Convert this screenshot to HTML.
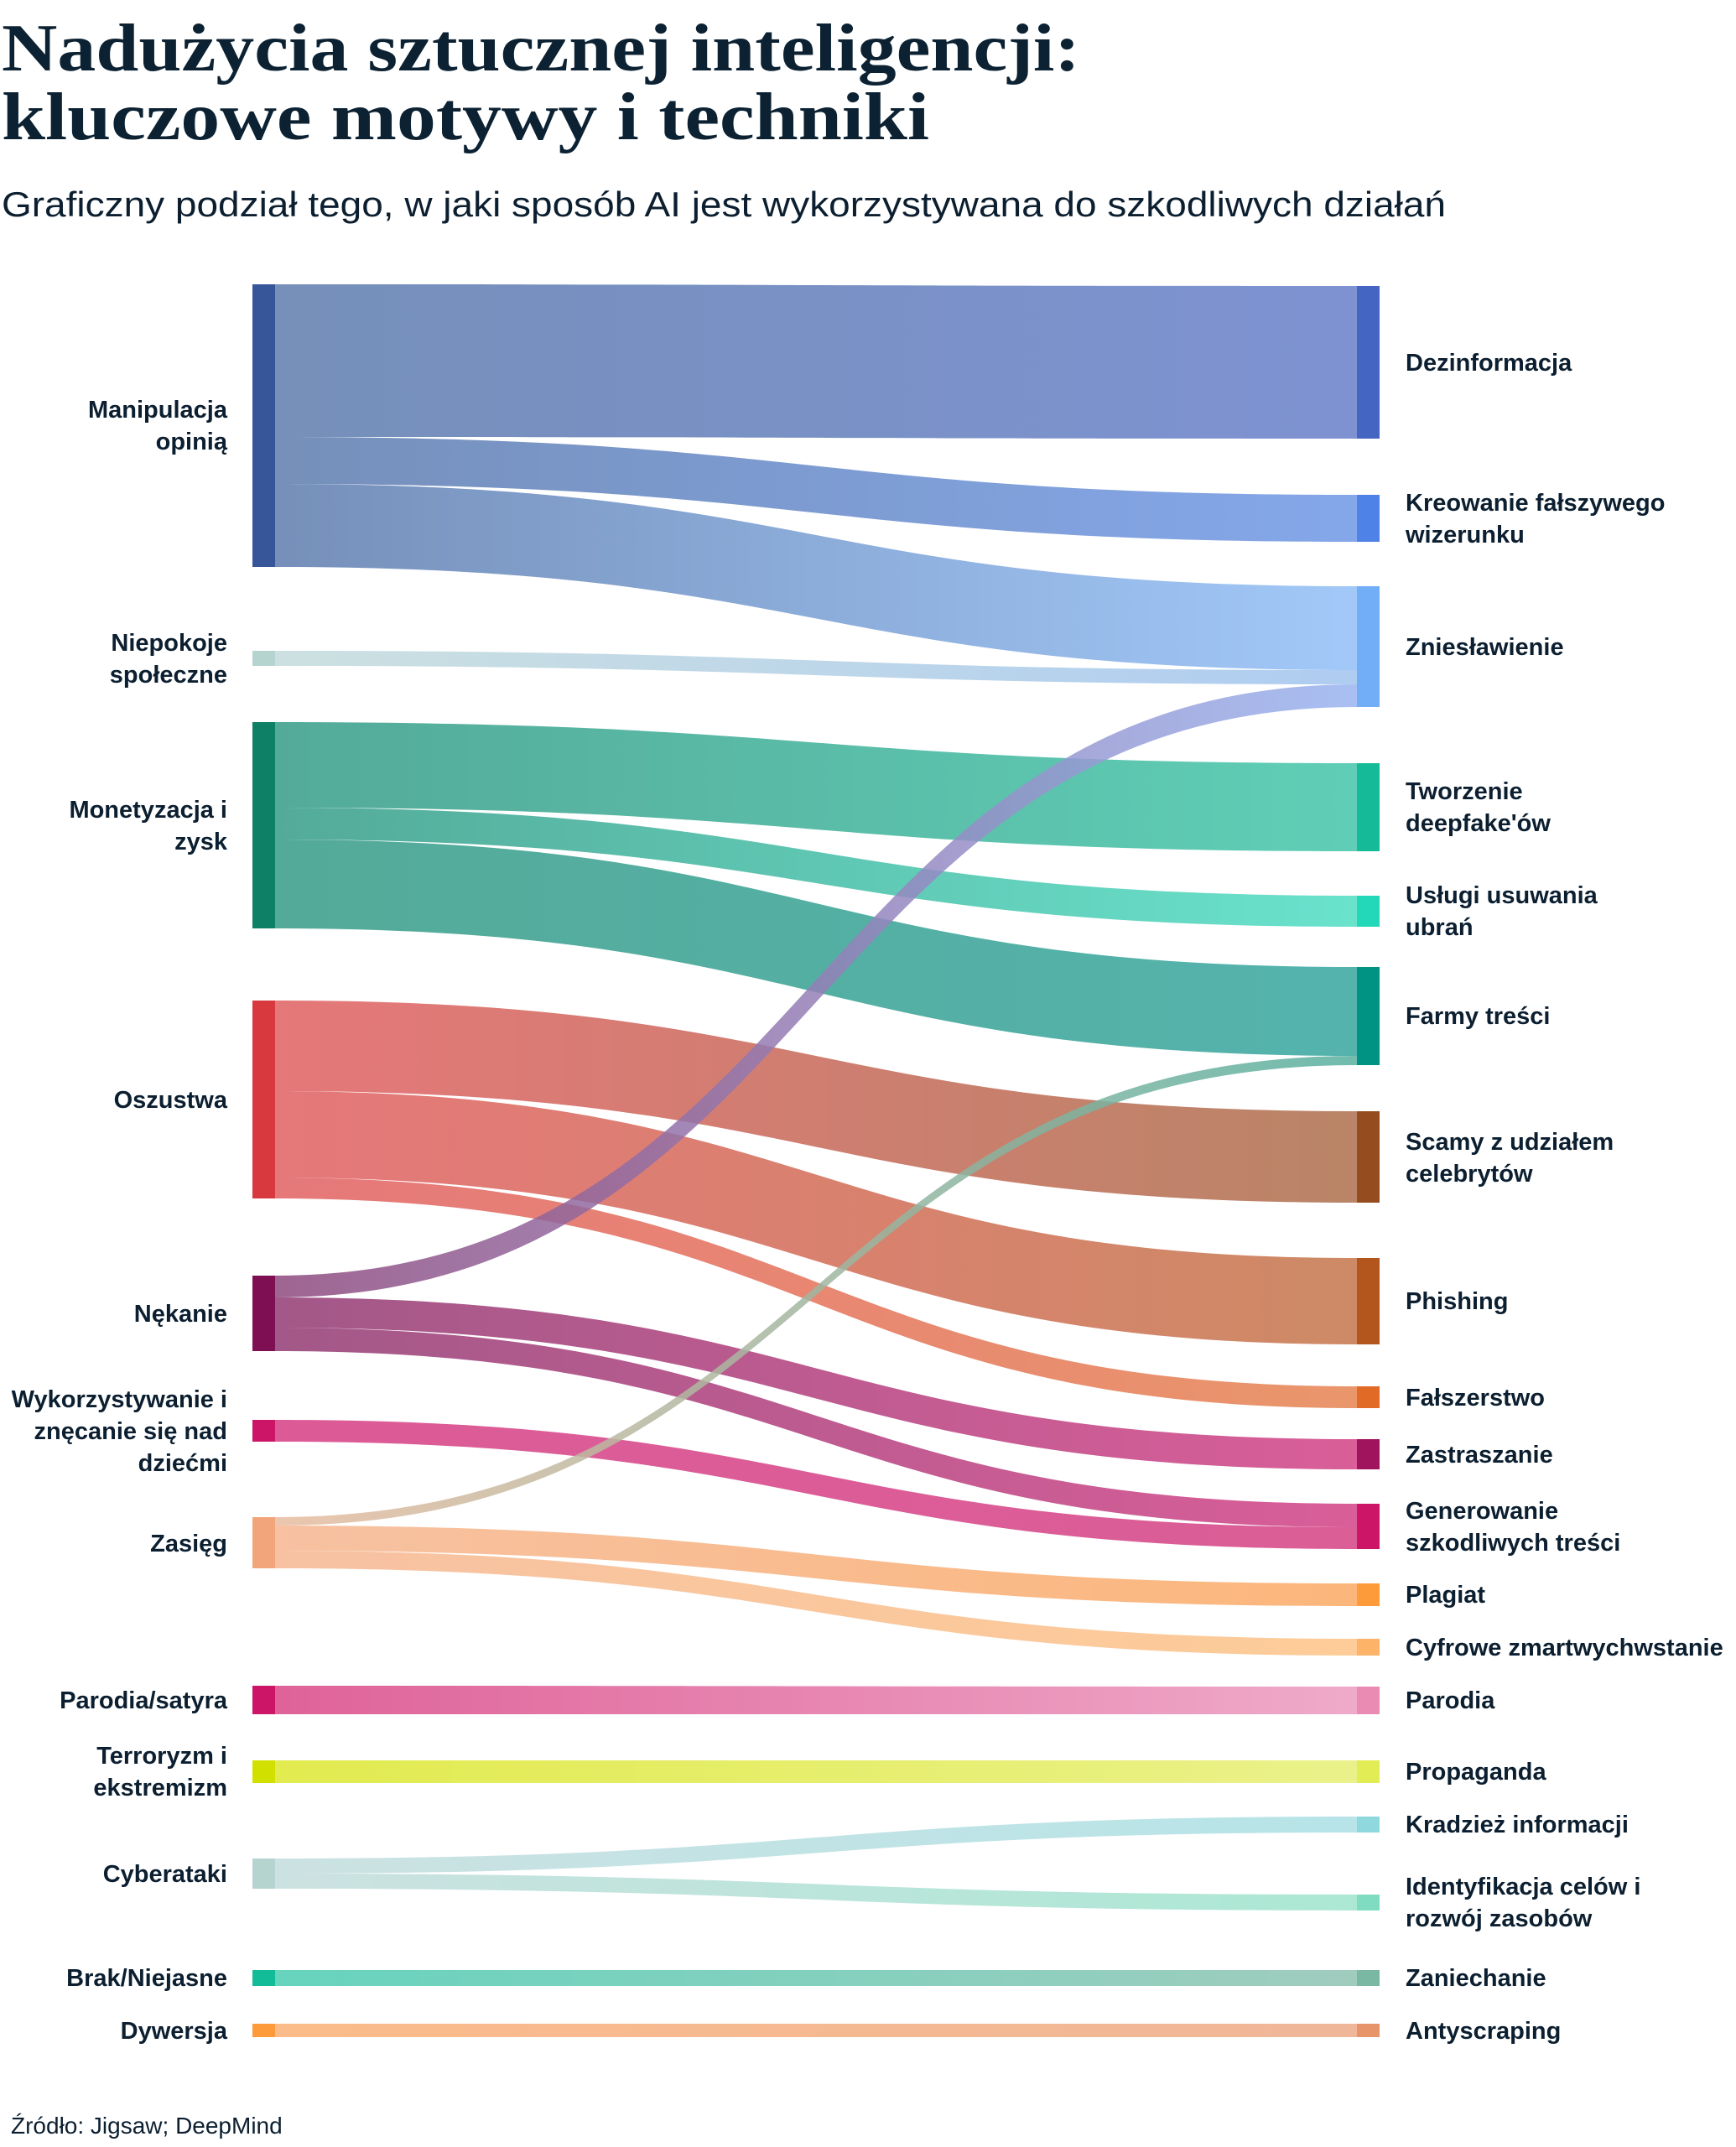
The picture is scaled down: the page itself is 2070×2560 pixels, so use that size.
<!DOCTYPE html>
<html><head><meta charset="utf-8"><style>
html,body{margin:0;padding:0;background:#fff}
svg{display:block}
.t{font-family:"Liberation Serif",serif;font-weight:bold;fill:#0c2233}
.l{font-family:"Liberation Sans",sans-serif;font-weight:bold;font-size:29px;fill:#0c1f30}
.s{font-family:"Liberation Sans",sans-serif;fill:#0c1f30}
</style></head><body>
<svg width="2070" height="2560" viewBox="0 0 2070 2560" xmlns="http://www.w3.org/2000/svg">
<defs>
<linearGradient id="g1" x1="0" x2="1"><stop offset="0" stop-color="#6a86b4"/><stop offset="1" stop-color="#7389ce"/></linearGradient>
<linearGradient id="g2" x1="0" x2="1"><stop offset="0" stop-color="#6a86b4"/><stop offset="1" stop-color="#7aa0e8"/></linearGradient>
<linearGradient id="g3" x1="0" x2="1"><stop offset="0" stop-color="#6a86b4"/><stop offset="1" stop-color="#9ac4f8"/></linearGradient>
<linearGradient id="g4" x1="0" x2="1"><stop offset="0" stop-color="#c8dede"/><stop offset="1" stop-color="#a8c8f0"/></linearGradient>
<linearGradient id="g5" x1="0" x2="1"><stop offset="0" stop-color="#8e4a7e"/><stop offset="1" stop-color="#9ab4f0"/></linearGradient>
<linearGradient id="g6" x1="0" x2="1"><stop offset="0" stop-color="#45a390"/><stop offset="1" stop-color="#52cab0"/></linearGradient>
<linearGradient id="g7" x1="0" x2="1"><stop offset="0" stop-color="#45a390"/><stop offset="1" stop-color="#5de0c8"/></linearGradient>
<linearGradient id="g8" x1="0" x2="1"><stop offset="0" stop-color="#45a390"/><stop offset="1" stop-color="#45ada6"/></linearGradient>
<linearGradient id="g9" x1="0" x2="1"><stop offset="0" stop-color="#e8bca0"/><stop offset="1" stop-color="#58b0a0"/></linearGradient>
<linearGradient id="g10" x1="0" x2="1"><stop offset="0" stop-color="#e36c6e"/><stop offset="1" stop-color="#b37a5a"/></linearGradient>
<linearGradient id="g11" x1="0" x2="1"><stop offset="0" stop-color="#e36c6e"/><stop offset="1" stop-color="#c98058"/></linearGradient>
<linearGradient id="g12" x1="0" x2="1"><stop offset="0" stop-color="#e36c6e"/><stop offset="1" stop-color="#e88d5e"/></linearGradient>
<linearGradient id="g13" x1="0" x2="1"><stop offset="0" stop-color="#9a4a7e"/><stop offset="1" stop-color="#d65090"/></linearGradient>
<linearGradient id="g15" x1="0" x2="1"><stop offset="0" stop-color="#d94d8e"/><stop offset="1" stop-color="#d8508e"/></linearGradient>
<linearGradient id="g16" x1="0" x2="1"><stop offset="0" stop-color="#f6bc9a"/><stop offset="1" stop-color="#fbb070"/></linearGradient>
<linearGradient id="g17" x1="0" x2="1"><stop offset="0" stop-color="#f6bc9a"/><stop offset="1" stop-color="#fdc890"/></linearGradient>
<linearGradient id="g18" x1="0" x2="1"><stop offset="0" stop-color="#dc5590"/><stop offset="1" stop-color="#eea3c5"/></linearGradient>
<linearGradient id="g19" x1="0" x2="1"><stop offset="0" stop-color="#dfe940"/><stop offset="1" stop-color="#e9f080"/></linearGradient>
<linearGradient id="g20" x1="0" x2="1"><stop offset="0" stop-color="#c8dfdf"/><stop offset="1" stop-color="#b0e2e6"/></linearGradient>
<linearGradient id="g21" x1="0" x2="1"><stop offset="0" stop-color="#c8dfdf"/><stop offset="1" stop-color="#a4e6d0"/></linearGradient>
<linearGradient id="g22" x1="0" x2="1"><stop offset="0" stop-color="#5ad0b8"/><stop offset="1" stop-color="#98c8b8"/></linearGradient>
<linearGradient id="g23" x1="0" x2="1"><stop offset="0" stop-color="#fbb680"/><stop offset="1" stop-color="#eeb090"/></linearGradient>
</defs>

<text class="t" x="2" y="84" font-size="80" textLength="1286" lengthAdjust="spacingAndGlyphs">Nadużycia sztucznej inteligencji:</text>
<text class="t" x="2" y="166" font-size="80" textLength="1106" lengthAdjust="spacingAndGlyphs">kluczowe motywy i techniki</text>
<text class="s" x="2" y="258" font-size="42" textLength="1722" lengthAdjust="spacingAndGlyphs">Graficzny podział tego, w jaki sposób AI jest wykorzystywana do szkodliwych działań</text>

<g fill-opacity="0.92">
<path fill="url(#g1)" d="M328,339C973,339 973,341 1618,341L1618,523C973,523 973,521 328,521Z"/>
<path fill="url(#g2)" d="M328,521C973,521 973,590 1618,590L1618,646C973,646 973,577 328,577Z"/>
<path fill="url(#g3)" d="M328,577C973,577 973,699 1618,699L1618,799C973,799 973,676 328,676Z"/>
<path fill="url(#g4)" d="M328,776C973,776 973,799 1618,799L1618,816C973,816 973,794 328,794Z"/>
<path fill="url(#g6)" d="M328,861C973,861 973,910 1618,910L1618,1015C973,1015 973,963 328,963Z"/>
<path fill="url(#g7)" d="M328,963C973,963 973,1068 1618,1068L1618,1105C973,1105 973,1001 328,1001Z"/>
<path fill="url(#g8)" d="M328,1001C973,1001 973,1153 1618,1153L1618,1259C973,1259 973,1107 328,1107Z"/>
<path fill="url(#g10)" d="M328,1193C973,1193 973,1325 1618,1325L1618,1434C973,1434 973,1301 328,1301Z"/>
<path fill="url(#g11)" d="M328,1301C973,1301 973,1500 1618,1500L1618,1603C973,1603 973,1404 328,1404Z"/>
<path fill="url(#g12)" d="M328,1404C973,1404 973,1653 1618,1653L1618,1679C973,1679 973,1429 328,1429Z"/>
<path fill="url(#g13)" d="M328,1547C973,1547 973,1716 1618,1716L1618,1752C973,1752 973,1583 328,1583Z"/>
<path fill="url(#g13)" d="M328,1583C973,1583 973,1793 1618,1793L1618,1821C973,1821 973,1611 328,1611Z"/>
<path fill="url(#g15)" d="M328,1693C973,1693 973,1821 1618,1821L1618,1847C973,1847 973,1719 328,1719Z"/>
<path fill="url(#g16)" d="M328,1819C973,1819 973,1888 1618,1888L1618,1915C973,1915 973,1849 328,1849Z"/>
<path fill="url(#g17)" d="M328,1849C973,1849 973,1954 1618,1954L1618,1974C973,1974 973,1870 328,1870Z"/>
<path fill="url(#g18)" d="M328,2010C973,2010 973,2011 1618,2011L1618,2044C973,2044 973,2044 328,2044Z"/>
<path fill="url(#g19)" d="M328,2099C973,2099 973,2099 1618,2099L1618,2126C973,2126 973,2126 328,2126Z"/>
<path fill="url(#g20)" d="M328,2216C973,2216 973,2166 1618,2166L1618,2185C973,2185 973,2234 328,2234Z"/>
<path fill="url(#g21)" d="M328,2234C973,2234 973,2259 1618,2259L1618,2278C973,2278 973,2252 328,2252Z"/>
<path fill="url(#g22)" d="M328,2349C973,2349 973,2349 1618,2349L1618,2368C973,2368 973,2368 328,2368Z"/>
<path fill="url(#g23)" d="M328,2413C973,2413 973,2413 1618,2413L1618,2429C973,2429 973,2429 328,2429Z"/>
</g>
<g fill-opacity="0.85">
<path fill="url(#g9)" d="M328,1809C973,1809 973,1259 1618,1259L1618,1270C973,1270 973,1819 328,1819Z"/>
<path fill="url(#g5)" d="M328,1521C973,1521 973,816 1618,816L1618,843C973,843 973,1547 328,1547Z"/>
</g>

<rect x="301" y="339" width="27" height="337" fill="#37569a"/>
<rect x="301" y="776" width="27" height="18" fill="#b5d3cf"/>
<rect x="301" y="861" width="27" height="246" fill="#0e8066"/>
<rect x="301" y="1193" width="27" height="236" fill="#d8393f"/>
<rect x="301" y="1521" width="27" height="90" fill="#7d0f52"/>
<rect x="301" y="1693" width="27" height="26" fill="#cc1566"/>
<rect x="301" y="1809" width="27" height="61" fill="#f2a57a"/>
<rect x="301" y="2010" width="27" height="34" fill="#cc1566"/>
<rect x="301" y="2099" width="27" height="27" fill="#d2e000"/>
<rect x="301" y="2216" width="27" height="36" fill="#b5d3cf"/>
<rect x="301" y="2349" width="27" height="19" fill="#13bc98"/>
<rect x="301" y="2413" width="27" height="16" fill="#fd9a3a"/>
<rect x="1618" y="341" width="27" height="182" fill="#4565c3"/>
<rect x="1618" y="590" width="27" height="56" fill="#4f82e6"/>
<rect x="1618" y="699" width="27" height="144" fill="#72aef8"/>
<rect x="1618" y="910" width="27" height="105" fill="#15bb98"/>
<rect x="1618" y="1068" width="27" height="37" fill="#22d8b8"/>
<rect x="1618" y="1153" width="27" height="117" fill="#009384"/>
<rect x="1618" y="1325" width="27" height="109" fill="#954c1f"/>
<rect x="1618" y="1500" width="27" height="103" fill="#b3561e"/>
<rect x="1618" y="1653" width="27" height="26" fill="#e06a26"/>
<rect x="1618" y="1716" width="27" height="36" fill="#a0145d"/>
<rect x="1618" y="1793" width="27" height="54" fill="#cc1566"/>
<rect x="1618" y="1888" width="27" height="27" fill="#fd9a3a"/>
<rect x="1618" y="1954" width="27" height="20" fill="#fdb468"/>
<rect x="1618" y="2011" width="27" height="33" fill="#ea8bb4"/>
<rect x="1618" y="2099" width="27" height="27" fill="#e2ec55"/>
<rect x="1618" y="2166" width="27" height="19" fill="#8fd8de"/>
<rect x="1618" y="2259" width="27" height="19" fill="#80dcc0"/>
<rect x="1618" y="2349" width="27" height="19" fill="#7ab8a4"/>
<rect x="1618" y="2413" width="27" height="16" fill="#e8946a"/>

<g class="l" text-anchor="end">
<text x="271" y="498">Manipulacja</text><text x="271" y="536">opinią</text>
<text x="271" y="776">Niepokoje</text><text x="271" y="814">społeczne</text>
<text x="271" y="975">Monetyzacja i</text><text x="271" y="1013">zysk</text>
<text x="271" y="1321">Oszustwa</text>
<text x="271" y="1576">Nękanie</text>
<text x="271" y="1678">Wykorzystywanie i</text><text x="271" y="1716">znęcanie się nad</text><text x="271" y="1754">dziećmi</text>
<text x="271" y="1850">Zasięg</text>
<text x="271" y="2037">Parodia/satyra</text>
<text x="271" y="2103">Terroryzm i</text><text x="271" y="2141">ekstremizm</text>
<text x="271" y="2244">Cyberataki</text>
<text x="271" y="2368">Brak/Niejasne</text>
<text x="271" y="2431">Dywersja</text>
</g>
<g class="l">
<text x="1676" y="442">Dezinformacja</text>
<text x="1676" y="609">Kreowanie fałszywego</text><text x="1676" y="647">wizerunku</text>
<text x="1676" y="781">Zniesławienie</text>
<text x="1676" y="953">Tworzenie</text><text x="1676" y="991">deepfake'ów</text>
<text x="1676" y="1077">Usługi usuwania</text><text x="1676" y="1115">ubrań</text>
<text x="1676" y="1221">Farmy treści</text>
<text x="1676" y="1371">Scamy z udziałem</text><text x="1676" y="1409">celebrytów</text>
<text x="1676" y="1561">Phishing</text>
<text x="1676" y="1676">Fałszerstwo</text>
<text x="1676" y="1744">Zastraszanie</text>
<text x="1676" y="1811">Generowanie</text><text x="1676" y="1849">szkodliwych treści</text>
<text x="1676" y="1911">Plagiat</text>
<text x="1676" y="1974">Cyfrowe zmartwychwstanie</text>
<text x="1676" y="2037">Parodia</text>
<text x="1676" y="2122">Propaganda</text>
<text x="1676" y="2185">Kradzież informacji</text>
<text x="1676" y="2259">Identyfikacja celów i</text><text x="1676" y="2297">rozwój zasobów</text>
<text x="1676" y="2368">Zaniechanie</text>
<text x="1676" y="2431">Antyscraping</text>
</g>

<text class="s" x="13" y="2544" font-size="28">Źródło: Jigsaw; DeepMind</text>
</svg>
</body></html>
